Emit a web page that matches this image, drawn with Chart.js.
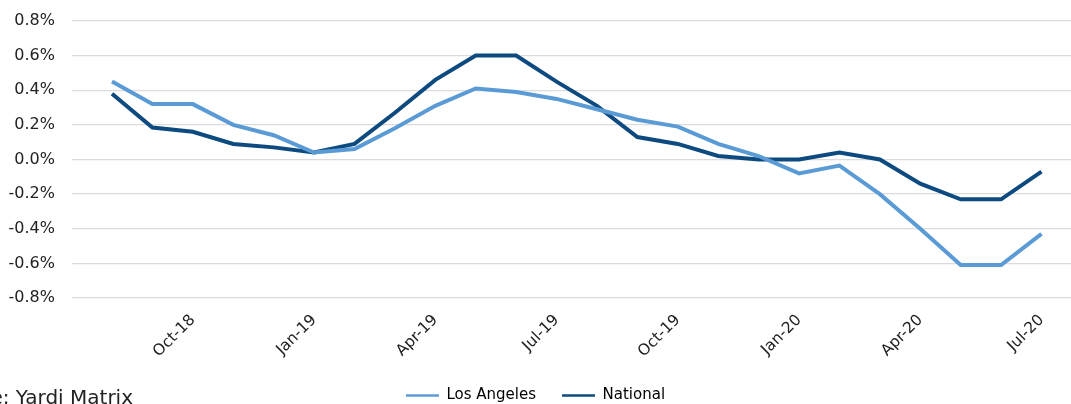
<!DOCTYPE html>
<html>
<head>
<meta charset="utf-8">
<script src="https://cdn.jsdelivr.net/npm/chart.js@4"></script>
<style>
html,body{margin:0;padding:0;background:#fff;}
#wrap{width:1071px;height:404px;position:relative;}
</style>
</head>
<body>
<div id="wrap"><canvas id="c" width="1071" height="404"></canvas></div>
<script>
const categories = ["Aug-18","Sep-18","Oct-18","Nov-18","Dec-18","Jan-19","Feb-19","Mar-19","Apr-19","May-19","Jun-19","Jul-19","Aug-19","Sep-19","Oct-19","Nov-19","Dec-19","Jan-20","Feb-20","Mar-20","Apr-20","May-20","Jun-20","Jul-20"];
const losAngeles = [0.45,0.32,0.32,0.20,0.14,0.04,0.06,0.18,0.31,0.41,0.39,0.35,0.29,0.23,0.19,0.09,0.02,-0.08,-0.035,-0.20,-0.40,-0.61,-0.61,-0.43];
const national = [0.38,0.185,0.16,0.09,0.07,0.04,0.09,0.27,0.46,0.60,0.60,0.45,0.31,0.13,0.09,0.02,0.00,0.00,0.04,0.00,-0.14,-0.23,-0.23,-0.07];
const shownTicks = ["Oct-18","Jan-19","Apr-19","Jul-19","Oct-19","Jan-20","Apr-20","Jul-20"];
const sourceText = "Source: Yardi Matrix";

const FONT = "'DejaVu Sans', sans-serif";
const toPts = arr => arr.map((v,i)=>({x:i,y:v}));

const sourcePlugin = {
  id:'sourceText',
  afterDraw(chart){
    const ctx = chart.ctx;
    ctx.save();
    ctx.font = "20px " + FONT;
    ctx.fillStyle = "#222";
    ctx.textAlign = "right";
    ctx.textBaseline = "alphabetic";
    ctx.fillText(sourceText, 133, 404);
    ctx.restore();
  }
};

new Chart(document.getElementById('c'), {
  type:'line',
  data:{
    datasets:[
      {label:'Los Angeles', data:toPts(losAngeles), borderColor:'#5b9bd5', backgroundColor:'#5b9bd5', borderWidth:4, pointRadius:0, tension:0},
      {label:'National', data:toPts(national), borderColor:'#0d4a80', backgroundColor:'#0d4a80', borderWidth:4, pointRadius:0, tension:0}
    ]
  },
  options:{
    responsive:false,
    animation:false,
    layout:{padding:{top:21,right:0,left:0,bottom:-9}},
    plugins:{
      tooltip:{enabled:false},
      legend:{
        position:'bottom',
        labels:{
          font:{family:FONT,size:15},
          color:'#222',
          boxWidth:33,
          boxHeight:2.5,
          padding:26,
          generateLabels(chart){
            return chart.data.datasets.map((d,i)=>({
              text:d.label, fillStyle:d.borderColor, strokeStyle:d.borderColor, lineWidth:0, datasetIndex:i, hidden:false
            }));
          }
        }
      }
    },
    scales:{
      x:{
        type:'linear',
        min:-0.99,
        max:23.73,
        grid:{display:false},
        border:{display:false},
        afterBuildTicks(scale){
          scale.ticks = shownTicks.map(l=>({value:categories.indexOf(l)}));
        },
        afterFit(scale){ scale.height -= 4; },
        ticks:{
          autoSkip:false,
          maxRotation:45,
          minRotation:45,
          font:{family:FONT,size:15.5},
          color:'#222',
          padding:5,
          callback:(v)=>categories[v]
        }
      },
      y:{
        min:-0.8,
        max:0.8,
        grid:{color:'#dcdcdc',lineWidth:1.3,drawTicks:false},
        border:{display:false},
        afterFit(scale){ scale.width = 72; scale.paddingTop = 0; scale.paddingBottom = 0; },
        ticks:{
          stepSize:0.2,
          padding:17,
          font:{family:FONT,size:16},
          color:'#222',
          callback:(v)=>v.toFixed(1)+'%'
        }
      }
    }
  },
  plugins:[sourcePlugin]
});
</script>
</body>
</html>
